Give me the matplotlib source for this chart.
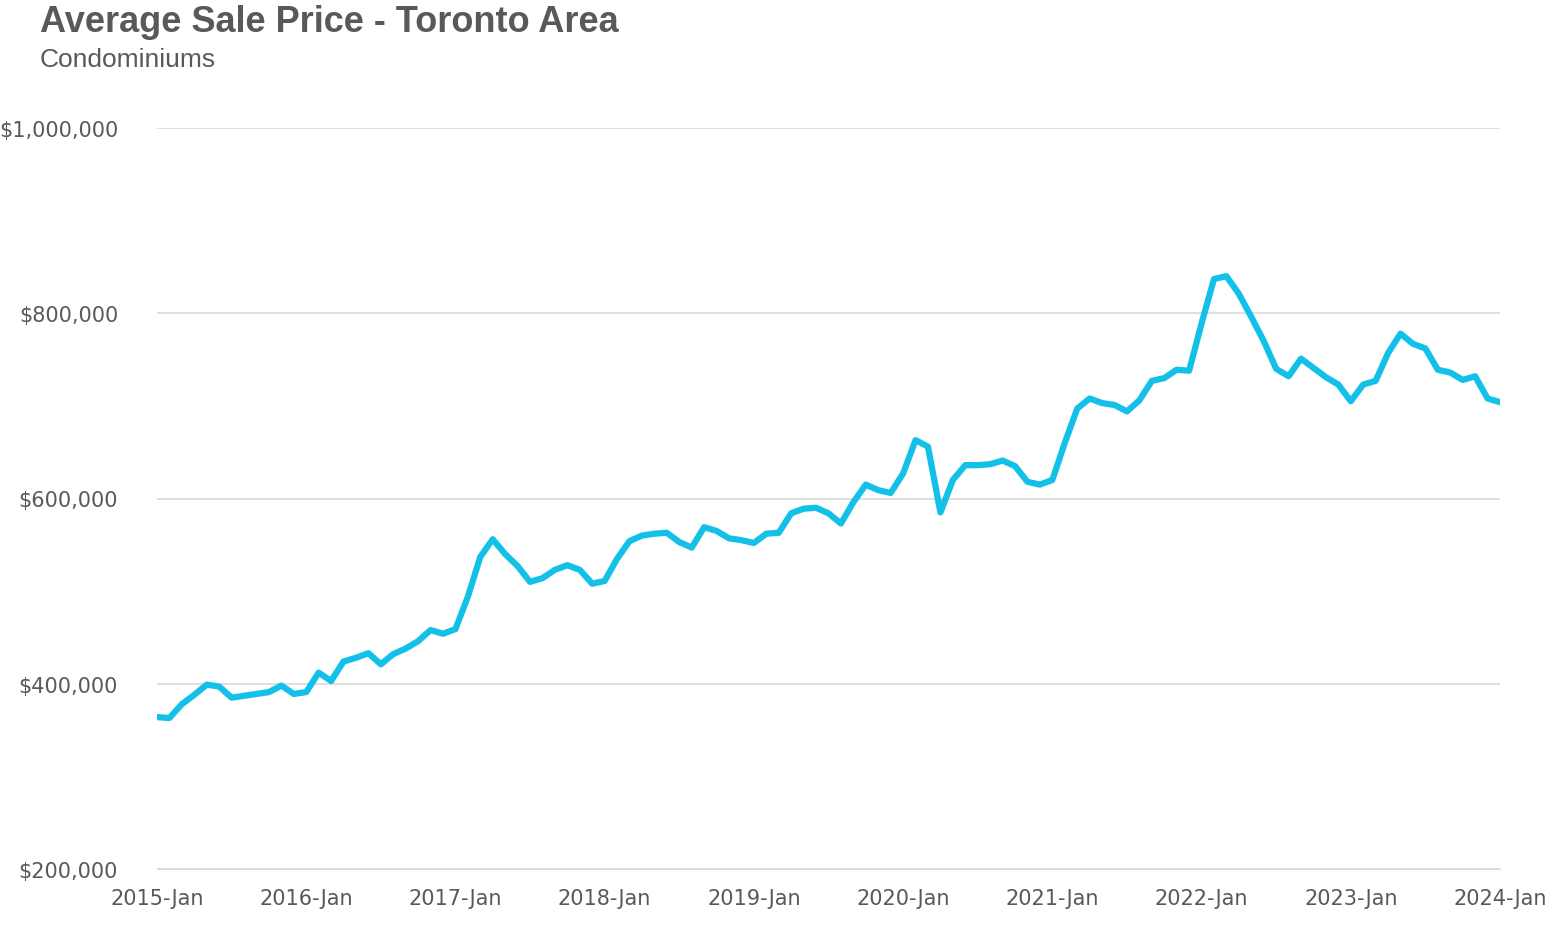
import matplotlib
matplotlib.use("Agg")
import matplotlib.pyplot as plt

years = list(range(2015, 2025))
tick_labels = [f"{y}-Jan" for y in years]
prices_k = [
    364, 363, 378, 388, 399, 397, 385, 387, 389, 391, 398, 389,
    391, 412, 403, 424, 428, 433, 421, 432, 438, 446, 458, 454,
    459, 494, 537, 556, 540, 527, 510, 514, 523, 528, 523, 508,
    511, 535, 554, 560, 562, 563, 553, 547, 569, 565, 557, 555,
    552, 562, 563, 584, 589, 590, 584, 573, 596, 615, 609, 606,
    627, 663, 656, 585, 620, 636, 636, 637, 641, 635, 618, 615,
    620, 660, 697, 708, 703, 701, 694, 706, 727, 730, 739, 738,
    789, 837, 840, 821, 796, 770, 740, 732, 751, 741, 731, 723,
    705, 723, 727, 757, 778, 767, 762, 739, 736, 728, 732, 708,
    704,
]
prices = [p * 1000 for p in prices_k]
months = list(range(len(prices)))

fig = plt.figure(figsize=(15.55, 9.28), dpi=100)
ax = fig.add_axes([157/1555, 1-870/928, (1500-157)/1555, (870-129)/928])
ax.plot(months, prices, color="#12C0E8", lw=4.5, solid_joinstyle="round")
ax.set_xlim(0, len(prices)-1)
ax.set_ylim(200000, 1000000)
ax.set_yticks([200000, 400000, 600000, 800000, 1000000])
ax.set_yticklabels([f"${v:,.0f}" for v in ax.get_yticks()])
ax.set_xticks([12*i for i in range(len(years))])
ax.set_xticklabels(tick_labels)
ax.grid(axis="y", color="#d9d9d9", lw=1.2)
ax.set_axisbelow(True)
for s in ["top", "right", "left"]:
    ax.spines[s].set_visible(False)
ax.spines["bottom"].set_color("#d9d9d9")
ax.tick_params(length=0, labelsize=15, colors="#595959")
ax.tick_params(axis="x", pad=14)
ax.tick_params(axis="y", pad=28)
fig.text(40/1555, 1-23/928, "Average Sale Price - Toronto Area", fontsize=26, fontweight="bold",
         color="#595959", family="Liberation Sans", va="center")
fig.text(40/1555, 1-60/928, "Condominiums", fontsize=19, color="#595959",
         family="Liberation Sans", va="center")
fig.savefig("out.png", dpi=100)
